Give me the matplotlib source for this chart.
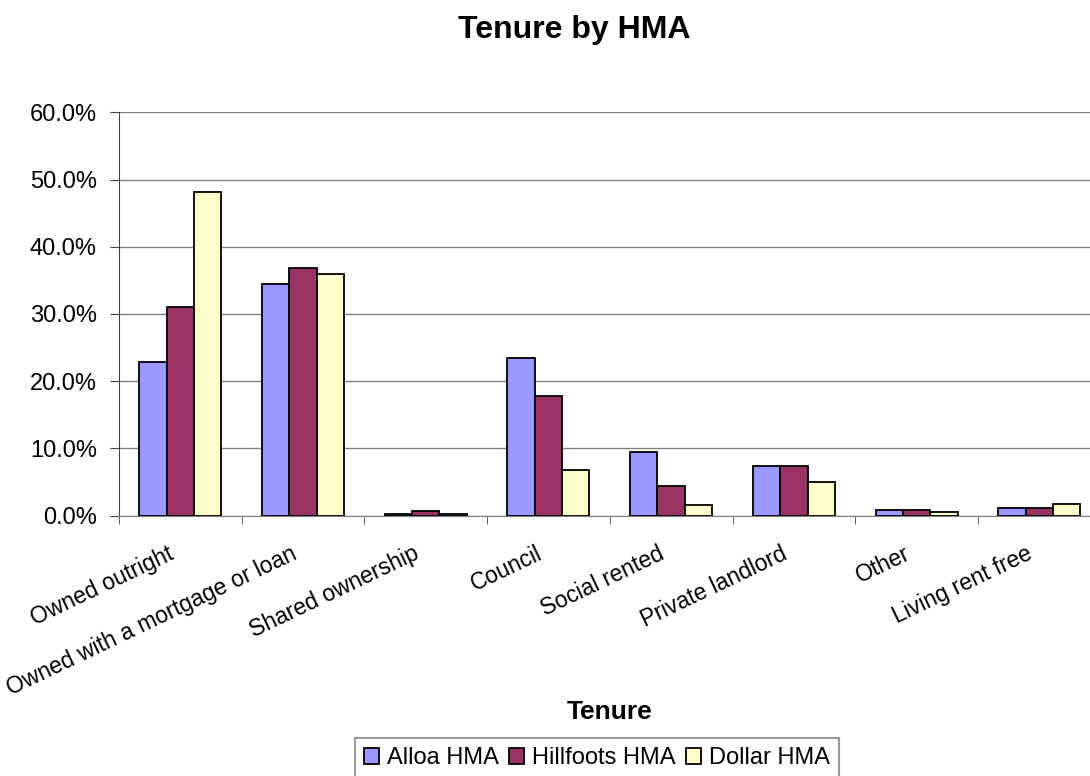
import numpy as np
import matplotlib
matplotlib.use("Agg")
import matplotlib.pyplot as plt
import matplotlib.transforms as mtransforms
from matplotlib.ticker import MultipleLocator, FixedLocator, StrMethodFormatter

plt.rcParams['font.family'] = ['Liberation Sans', 'DejaVu Sans']

# data (percent)
categories = ['Owned outright', 'Owned with a mortgage or loan', 'Shared ownership',
              'Council', 'Social rented', 'Private landlord', 'Other', 'Living rent free']
alloa = [22.9, 34.5, 0.25, 23.5, 9.5, 7.4, 0.85, 1.15]
hillfoots = [31.0, 36.9, 0.6, 17.8, 4.4, 7.4, 0.85, 1.15]
dollar = [48.2, 36.0, 0.25, 6.8, 1.5, 5.0, 0.55, 1.75]
series_names = ['Alloa HMA', 'Hillfoots HMA', 'Dollar HMA']
colors = ['#9999FF', '#993366', '#FFFFCC']

W, H = 1090, 776
fig = plt.figure(figsize=(W / 100, H / 100), dpi=100)
# plot area runs past the right edge, as in the reference
left, right, top, bottom = 119, 1100.6, 112.3, 515.5
ax = fig.add_axes([left / W, 1 - bottom / H, (right - left) / W, (bottom - top) / H])

x = np.arange(len(categories))
bw = 0.223
for i, (vals, name, col) in enumerate(zip([alloa, hillfoots, dollar], series_names, colors)):
    ax.bar(x + (i - 1) * bw, vals, width=bw, color=col, edgecolor='black',
           linewidth=1.3, label=name, zorder=3)

ax.set_xlim(-0.5, len(categories) - 0.5)
ax.set_ylim(0, 60)
ax.yaxis.set_major_locator(MultipleLocator(10))
ax.yaxis.set_major_formatter(StrMethodFormatter('{x:.1f}%'))
ax.yaxis.grid(True, color='#808080', linewidth=1.0, zorder=0)

ax.set_xticks(x)
ax.set_xticklabels(categories, rotation=25.5, ha='right', va='top', rotation_mode='anchor')
ax.xaxis.set_minor_locator(FixedLocator(np.arange(-0.5, len(categories), 1.0)))
ax.tick_params(axis='x', which='major', length=0, pad=19, labelsize=16.5)
ax.tick_params(axis='x', which='minor', length=6, direction='out', color='#404040')
ax.tick_params(axis='y', length=6.5, direction='out', color='#404040', labelsize=17, pad=9.5)

# nudge category labels left a little
shift = mtransforms.ScaledTranslation(-13 / 100, 0, fig.dpi_scale_trans)
for lab in ax.get_xticklabels():
    lab.set_transform(lab.get_transform() + shift)

for s in ['top', 'right']:
    ax.spines[s].set_visible(False)
ax.spines['left'].set_color('#404040')
ax.spines['bottom'].set_color('#808080')

fig.text(574 / W, 1 - 30 / H, 'Tenure by HMA', ha='center', va='center',
         fontsize=23, fontweight='bold')
fig.text(609.5 / W, 1 - 712 / H, 'Tenure', ha='center', va='center',
         fontsize=19, fontweight='bold')

leg = fig.legend(loc='upper center', bbox_to_anchor=(597 / W, 1 - 737.7 / H), ncol=3,
                 fontsize=17, frameon=True, fancybox=False, edgecolor='#808080',
                 handlelength=0.64, handleheight=0.64, handletextpad=0.34,
                 columnspacing=0.42, borderpad=0.4, borderaxespad=0)
leg.get_frame().set_linewidth(1.5)

fig.savefig('out.png', dpi=100)
